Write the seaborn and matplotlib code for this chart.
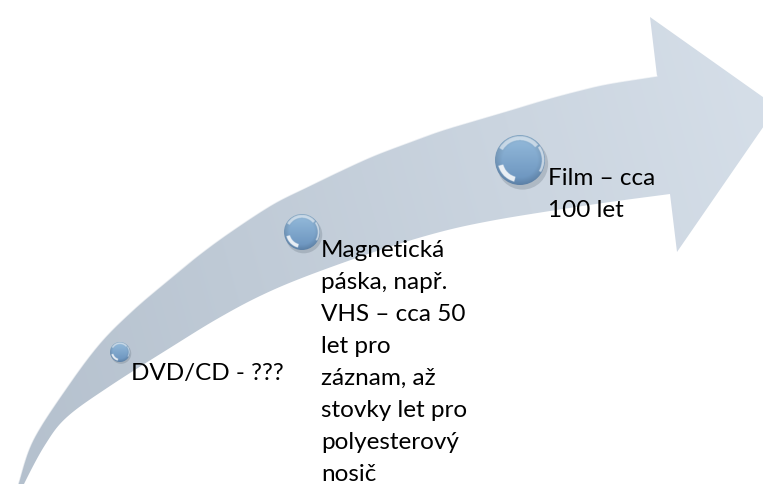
import numpy as np
import matplotlib
matplotlib.use("Agg")
import matplotlib.pyplot as plt
from matplotlib.patches import Polygon, Circle, Ellipse
import seaborn as sns

# ---- content ----
stages = ["DVD/CD", "Magnetická páska", "Film"]
stage_lines = [
    ["DVD/CD - ???"],
    ["Magnetická", "páska, např.", "VHS – cca 50", "let pro", "záznam, až",
     "stovky let pro", "polyesterový", "nosič"],
    ["Film – cca", "100 let"],
]

# ---- layout (pixel space, y down) ----
W, H = 763, 484
bead_x = [120, 302, 520]
bead_y = [352, 232, 160]
bead_r = [10, 18, 25]
text_x = [131, 321, 548]
text_y0 = [380, 257, 185]
line_step = 32

upper_pts = np.array([(13, 500), (18, 484), (33, 440), (67, 387), (100, 343), (133, 310),
                      (167, 281), (200, 254), (233, 230), (273, 204), (307, 187),
                      (340, 171), (373, 156), (407, 143), (440, 131), (473, 121),
                      (507, 111), (540, 101), (573, 92), (607, 84), (657, 76)], float)
lower_pts = np.array([(670, 194), (610, 202), (550, 211), (490, 221), (440, 232),
                      (380, 250), (307, 276), (260, 296), (217, 319), (173, 346),
                      (110, 386), (67, 417), (45, 445), (24, 484), (18, 500)], float)
head_pts = np.array([(650, 17), (777, 107), (677, 252)], float)


def catmull(pts, n=12):
    out = []
    P = np.vstack([pts[0] * 2 - pts[1], pts, pts[-1] * 2 - pts[-2]])
    for i in range(1, len(P) - 2):
        p0, p1, p2, p3 = P[i - 1], P[i], P[i + 1], P[i + 2]
        for t in np.linspace(0, 1, n, endpoint=False):
            t2, t3 = t * t, t * t * t
            out.append(0.5 * ((2 * p1) + (-p0 + p2) * t + (2 * p0 - 5 * p1 + 4 * p2 - p3) * t2
                              + (-p0 + 3 * p1 - 3 * p2 + p3) * t3))
    out.append(pts[-1])
    return np.array(out)


sns.set_theme(style="white")
plt.rcParams['font.family'] = ['Lato', 'DejaVu Sans']

fig = plt.figure(figsize=(W / 100, H / 100), dpi=100)
ax = fig.add_axes([0, 0, 1, 1])
ax.set_xlim(0, W)
ax.set_ylim(H, 0)
ax.axis("off")

up = catmull(upper_pts)
lo = catmull(lower_pts)
outline = np.vstack([up, head_pts, lo])
arrow = Polygon(outline, closed=True, facecolor="none", edgecolor="none")
ax.add_patch(arrow)

# gradient fill for the arrow
gx, gy = np.meshgrid(np.linspace(0, 1, 400), np.linspace(0, 1, 260))
c0 = np.array([180, 192, 205]) / 255
c1 = np.array([214, 223, 233]) / 255
t = np.clip(gx * 0.85 + (1 - gy) * 0.15, 0, 1)[..., None]
img = c0 * (1 - t) + c1 * t
im = ax.imshow(img, extent=[0, W, H, 0], origin="upper", zorder=1, interpolation="bilinear")
im.set_clip_path(arrow)

# subtle white bevel along the top edge
sns.lineplot(x=up[:, 0], y=up[:, 1], sort=False, estimator=None, color="white",
             lw=1.0, alpha=0.6, ax=ax, zorder=2)


def bead(cx, cy, r):
    # shadow
    ax.add_patch(Ellipse((cx + 0.10 * r, cy + 0.16 * r), 2.05 * r, 2.05 * r,
                         facecolor=(0.35, 0.4, 0.45), alpha=0.25, edgecolor="none", zorder=3))
    n = 160
    u, v = np.meshgrid(np.linspace(-1, 1, n), np.linspace(-1, 1, n))  # v down
    rr = np.sqrt(u ** 2 + v ** 2)
    top = np.array([150, 188, 220]) / 255
    bot = np.array([104, 145, 188]) / 255
    tt = np.clip((v + 1) / 2, 0, 1)[..., None]
    col = top * (1 - tt) + bot * tt
    col = col * (1 - 0.12 * (np.clip(rr - 0.7, 0, 0.3) / 0.3)[..., None])
    ang = np.degrees(np.arctan2(v, u))
    # lower-left crescent reflection
    cres = (rr > 0.70) & (rr < 0.90) & (ang > 105) & (ang < 165)
    col[cres] = col[cres] * 0.15 + 0.85
    # top arc highlight
    arc = (rr > 0.80) & (rr < 0.96) & (ang > -150) & (ang < -40)
    col[arc] = col[arc] * 0.45 + 0.55
    # right rim highlight
    rim = (rr > 0.88) & (rr < 0.98) & (ang > -35) & (ang < 30)
    col[rim] = col[rim] * 0.4 + 0.6
    circ = Circle((cx, cy), r, facecolor="none", edgecolor="none")
    ax.add_patch(circ)
    bi = ax.imshow(np.clip(col, 0, 1), extent=[cx - r, cx + r, cy + r, cy - r],
                   origin="upper", zorder=4, interpolation="bilinear")
    bi.set_clip_path(circ)


for bx, by, br in zip(bead_x, bead_y, bead_r):
    bead(bx, by, br)

for lines, tx, ty in zip(stage_lines, text_x, text_y0):
    for k, line in enumerate(lines):
        ax.text(tx, ty + k * line_step, line, fontsize=17.5, color="black",
                ha="left", va="baseline", zorder=6)

fig.savefig("out.png", dpi=100)
